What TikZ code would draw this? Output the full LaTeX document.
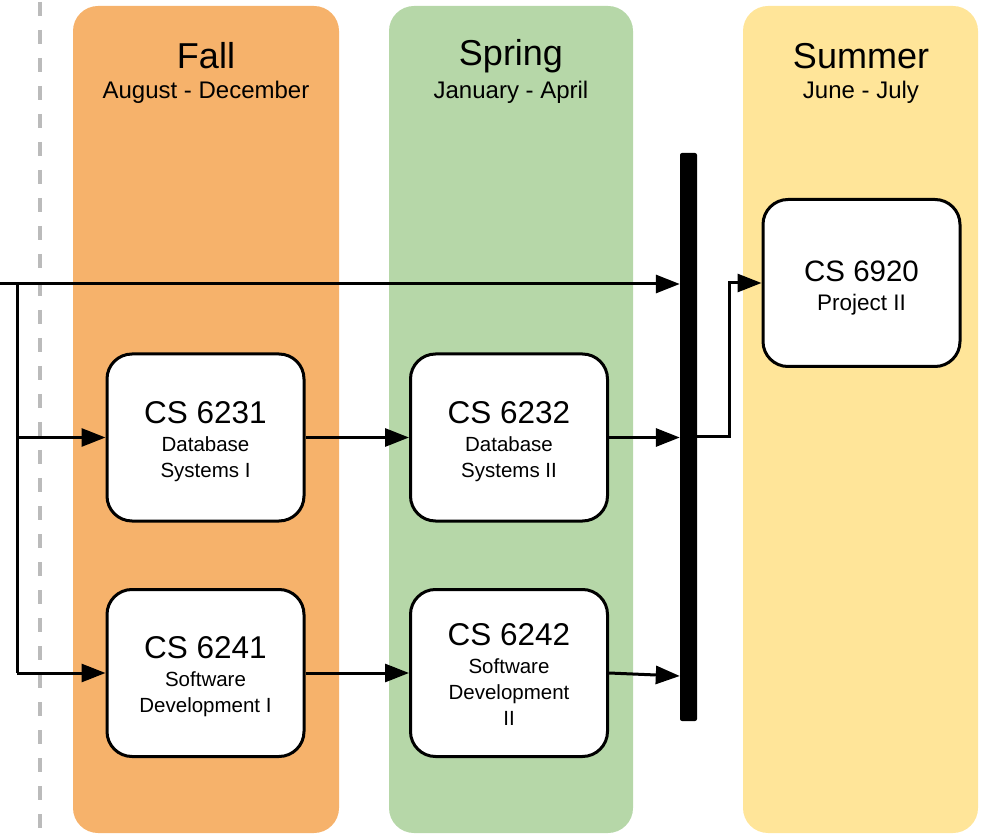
\documentclass[tikz,border=0pt]{standalone}
\usepackage{fontspec}
\setmainfont{Liberation Sans}
\usetikzlibrary{arrows.meta}
\definecolor{fallc}{HTML}{F6B26B}
\definecolor{springc}{HTML}{B6D7A8}
\definecolor{summerc}{HTML}{FFE599}
\definecolor{dashc}{HTML}{BBBBBB}
\tikzset{
  course/.style={draw=black, line width=3pt, fill=white, rounded corners=25pt,
    minimum width=197pt, minimum height=167pt, align=center, inner sep=0pt,
    font=\fontsize{20.5}{26}\selectfont},
  conn/.style={line width=3pt, -{Triangle[length=24pt,width=18pt]}},
  plainline/.style={line width=3pt},
  bigtitle/.style={font=\fontsize{36}{40}\selectfont},
  subtitle/.style={font=\fontsize{24}{28}\selectfont},
}
\newcommand{\lowerby}[2]{\raisebox{-#1}[\height][\depth]{\begin{tabular}{@{}c@{}}#2\end{tabular}}}
\begin{document}
\begin{tikzpicture}[x=1pt,y=-1pt]
\useasboundingbox (0,0) rectangle (989,834);
% columns
\fill[fallc, rounded corners=25pt] (73,6) rectangle (339,833);
\fill[springc, rounded corners=25pt] (389,6) rectangle (633,833);
\fill[summerc, rounded corners=25pt] (743,6) rectangle (978,833);
% dashed line
\draw[dashc, line width=3.5pt, dash pattern=on 14pt off 14pt, dash phase=-2pt] (40,0) -- (40,834);
% headers
\node[bigtitle] (fall) at (206,56) {Fall};
\node[subtitle] (fallm) at (206,92) {August - December};
\node[bigtitle] (spring) at (511,56) {Spring};
\node[subtitle] (springm) at (511,92) {January - April};
\node[bigtitle] (summer) at (861,56) {Summer};
\node[subtitle] (summerm) at (861,92) {June - July};
% courses
\node[course] (c6231) at (205.5,437.5) {\lowerby{5.5pt}{{\fontsize{31.5}{33}\selectfont CS 6231}\\[2pt]Database\\Systems I}};
\node[course] (c6241) at (205.5,673) {\lowerby{5.5pt}{{\fontsize{31.5}{33}\selectfont CS 6241}\\[2pt]Software\\Development I}};
\node[course] (c6232) at (509,437.5) {\lowerby{5.5pt}{{\fontsize{31.5}{33}\selectfont CS 6232}\\[2pt]Database\\Systems II}};
\node[course] (c6242) at (509,673) {\lowerby{5.5pt}{{\fontsize{31.5}{33}\selectfont CS 6242}\\[2pt]Software\\Development\\II}};
\node[course] (c6920) at (861.5,283) {\lowerby{7pt}{{\fontsize{29.5}{33}\selectfont CS 6920}\\[3pt]{\fontsize{22.5}{26}\selectfont Project II}}};
% bar
\node[fill=black, rounded corners=2pt, minimum width=17pt, minimum height=568pt, inner sep=0pt] (bar) at (688.5,437) {};
% connectors
\coordinate (start) at (0,284);
\coordinate (split) at (17,284);
\coordinate (splitb) at (17,673);
\draw[conn] (start) -- (bar.west |- start);
\draw[plainline] (split) -- (splitb);
\draw[conn] (split |- c6231.west) -- (c6231.west);
\draw[conn] (splitb) -- (c6241.west);
\draw[conn] (c6231.east) -- (c6232.west);
\draw[conn] (c6241.east) -- (c6242.west);
\draw[conn] (c6232.east) -- (bar.west |- c6232.east);
\draw[conn] (c6242.east) -- ([yshift=-3pt]bar.west |- c6242.east);
\coordinate (turn) at (729,437);
\draw[conn] (bar.east |- turn) -- (turn) -- (turn |- c6920.west) -- (c6920.west);
\end{tikzpicture}
\end{document}
